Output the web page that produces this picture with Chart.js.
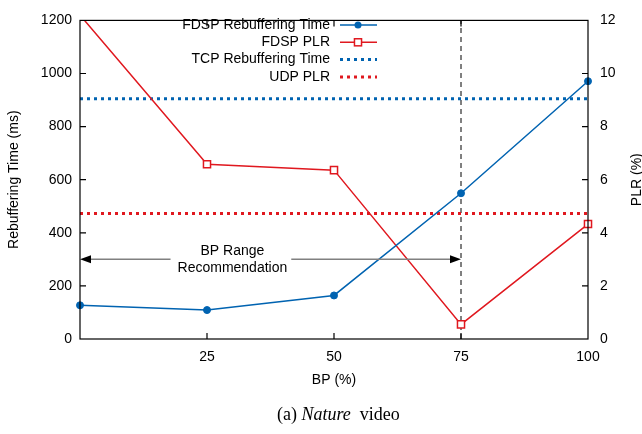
<!DOCTYPE html>
<html>
<head>
<meta charset="utf-8">
<script src="https://cdn.jsdelivr.net/npm/chart.js@4.4.0/dist/chart.umd.min.js"></script>
<style>
  body { margin: 0; background: #fff; }
  #wrap { position: relative; width: 642px; height: 434px; }
  #caption {
    position: absolute; left: 277px; top: 405px;
    font-family: "Liberation Serif", "Times New Roman", serif;
    font-size: 18px; line-height: 18px; color: #000; white-space: nowrap;
  }
</style>
</head>
<body>
<div id="wrap">
  <canvas id="chart1" width="642" height="434"></canvas>
  <div id="caption">(a) <i>Nature</i>&nbsp; video</div>
</div>
<script>
  // Datos
  const bp = [0, 25, 50, 75, 100];
  const fdspRebuffering = [127, 109, 164, 549, 971];
  const fdspPlr = [12.2, 6.58, 6.36, 0.55, 4.33];
  const tcpRebuffering = 905;
  const udpPlr = 4.73;
  const bpRangeStart = 0;
  const bpRangeEnd = 75;
  const arrowLevel = 300;
  const arrowLabelAt = 30;
  const arrowLabel = ['BP Range', 'Recommendation'];

  const blue = '#0063b1';
  const red = '#e0181f';
  const fontFamily = '"Liberation Sans", Arial, sans-serif';

  Chart.defaults.font.family = fontFamily;
  Chart.defaults.font.size = 14;
  Chart.defaults.color = '#000';

  // Leyenda, marco, ticks hacia dentro, flecha y titulo derecho
  const decor = {
    id: 'decor',
    afterDraw(chart) {
      const ctx = chart.ctx;
      const a = chart.chartArea;
      const x = chart.scales.x, y = chart.scales.y, y1 = chart.scales.y1;
      ctx.save();

      // flecha del rango recomendado
      const ax0 = x.getPixelForValue(bpRangeStart);
      const ax1 = x.getPixelForValue(bpRangeEnd);
      const ay = y.getPixelForValue(arrowLevel);
      const lx = x.getPixelForValue(arrowLabelAt);
      ctx.font = '14px ' + fontFamily;
      const tw = Math.max(...arrowLabel.map(t => ctx.measureText(t).width));
      ctx.strokeStyle = '#808080';
      ctx.lineWidth = 1.5;
      ctx.beginPath();
      ctx.moveTo(ax0 + 8, ay); ctx.lineTo(lx - tw / 2 - 7, ay);
      ctx.moveTo(lx + tw / 2 + 4, ay); ctx.lineTo(ax1 - 8, ay);
      ctx.stroke();
      ctx.fillStyle = '#000';
      ctx.beginPath();
      ctx.moveTo(ax0, ay); ctx.lineTo(ax0 + 11, ay - 4); ctx.lineTo(ax0 + 11, ay + 4); ctx.closePath();
      ctx.moveTo(ax1, ay); ctx.lineTo(ax1 - 11, ay - 4); ctx.lineTo(ax1 - 11, ay + 4); ctx.closePath();
      ctx.fill();
      ctx.textAlign = 'center';
      ctx.textBaseline = 'middle';
      ctx.fillText(arrowLabel[0], lx, ay - 8);
      ctx.fillText(arrowLabel[1], lx, ay + 9);

      // marco
      ctx.strokeStyle = '#000';
      ctx.lineWidth = 1.2;
      ctx.strokeRect(a.left, a.top, a.right - a.left, a.bottom - a.top);

      // ticks hacia dentro
      ctx.beginPath();
      x.ticks.forEach(t => {
        if (t.value <= x.min || t.value >= x.max) return;
        const px = x.getPixelForValue(t.value);
        ctx.moveTo(px, a.bottom); ctx.lineTo(px, a.bottom - 6);
        ctx.moveTo(px, a.top); ctx.lineTo(px, a.top + 6);
      });
      y.ticks.forEach(t => {
        if (t.value <= y.min || t.value >= y.max) return;
        const py = y.getPixelForValue(t.value);
        ctx.moveTo(a.left, py); ctx.lineTo(a.left + 6, py);
      });
      y1.ticks.forEach(t => {
        if (t.value <= y1.min || t.value >= y1.max) return;
        const py = y1.getPixelForValue(t.value);
        ctx.moveTo(a.right, py); ctx.lineTo(a.right - 6, py);
      });
      ctx.stroke();

      // leyenda
      ctx.font = '14px ' + fontFamily;
      ctx.textAlign = 'right';
      ctx.textBaseline = 'middle';
      let ly = 25;
      chart.data.datasets.forEach(ds => {
        if (ds.inLegend === false) return;
        ctx.fillStyle = '#000';
        ctx.fillText(ds.label, 330, ly);
        ctx.strokeStyle = ds.borderColor;
        ctx.lineWidth = ds.borderWidth;
        ctx.setLineDash(ds.borderDash || []);
        ctx.beginPath();
        ctx.moveTo(340, ly); ctx.lineTo(377, ly);
        ctx.stroke();
        ctx.setLineDash([]);
        if (ds.pointRadius > 0) {
          ctx.lineWidth = ds.pointBorderWidth || 1;
          if (ds.pointStyle === 'rect') {
            const s = ds.pointRadius * Math.SQRT1_2;
            ctx.fillStyle = ds.pointBackgroundColor;
            ctx.fillRect(358 - s, ly - s, 2 * s, 2 * s);
            ctx.strokeRect(358 - s, ly - s, 2 * s, 2 * s);
          } else {
            ctx.fillStyle = ds.pointBackgroundColor;
            ctx.beginPath();
            ctx.arc(358, ly, ds.pointRadius, 0, Math.PI * 2);
            ctx.fill();
          }
        }
        ly += 17.3;
      });

      // titulo eje derecho
      ctx.fillStyle = '#000';
      ctx.translate(637, (a.top + a.bottom) / 2);
      ctx.rotate(-Math.PI / 2);
      ctx.textAlign = 'center';
      ctx.fillText('PLR (%)', 0, 0);
      ctx.restore();
    }
  };

  const pts = (xs, ys) => xs.map((v, i) => ({ x: v, y: ys[i] }));
  const plain = v => String(v);

  new Chart(document.getElementById('chart1'), {
    type: 'line',
    data: {
      datasets: [
        {
          label: 'FDSP Rebuffering Time',
          yAxisID: 'y',
          data: pts(bp, fdspRebuffering),
          borderColor: blue,
          borderWidth: 1.5,
          pointRadius: 3.5,
          pointBackgroundColor: blue,
          pointBorderColor: blue,
          pointBorderWidth: 1,
          clip: false
        },
        {
          label: 'FDSP PLR',
          yAxisID: 'y1',
          data: pts(bp, fdspPlr),
          borderColor: red,
          borderWidth: 1.5,
          pointStyle: 'rect',
          pointRadius: 5,
          pointBackgroundColor: '#fff',
          pointBorderColor: red,
          pointBorderWidth: 1.5,
          clip: { left: 0, top: 0, right: 8, bottom: 8 }
        },
        {
          label: 'TCP Rebuffering Time',
          yAxisID: 'y',
          data: pts([0, 100], [tcpRebuffering, tcpRebuffering]),
          borderColor: blue,
          borderWidth: 3,
          borderDash: [3, 4],
          pointRadius: 0
        },
        {
          label: 'UDP PLR',
          yAxisID: 'y1',
          data: pts([0, 100], [udpPlr, udpPlr]),
          borderColor: red,
          borderWidth: 3,
          borderDash: [3, 4],
          pointRadius: 0
        },
        {
          label: 'BP range end',
          inLegend: false,
          yAxisID: 'y',
          data: pts([bpRangeEnd, bpRangeEnd], [0, 1200]),
          borderColor: '#000',
          borderWidth: 1,
          borderDash: [5, 4],
          pointRadius: 0
        }
      ]
    },
    options: {
      animation: false,
      responsive: false,
      layout: { padding: { top: 9, bottom: 41, left: 0, right: 0 } },
      scales: {
        x: {
          type: 'linear',
          min: 0,
          max: 100,
          grid: { display: false, drawTicks: false },
          border: { display: false },
          ticks: { stepSize: 25, padding: 10, callback: v => v === 0 ? '' : String(v) },
          title: { display: true, text: 'BP (%)', padding: { top: 0, bottom: 4 } },
          afterFit: s => { s.height = 54; }
        },
        y: {
          min: 0,
          max: 1200,
          grid: { display: false, drawTicks: false },
          border: { display: false },
          ticks: { stepSize: 200, padding: 8, callback: plain },
          title: { display: true, text: 'Rebuffering Time (ms)', padding: { top: 6, bottom: 0 } },
          afterFit: s => { s.width = 80; }
        },
        y1: {
          position: 'right',
          min: 0,
          max: 12,
          grid: { display: false, drawTicks: false },
          border: { display: false },
          ticks: { stepSize: 2, padding: 12, callback: plain },
          afterFit: s => { s.width = 54; }
        }
      },
      plugins: { legend: { display: false }, tooltip: { enabled: false } }
    },
    plugins: [decor]
  });
</script>
</body>
</html>
